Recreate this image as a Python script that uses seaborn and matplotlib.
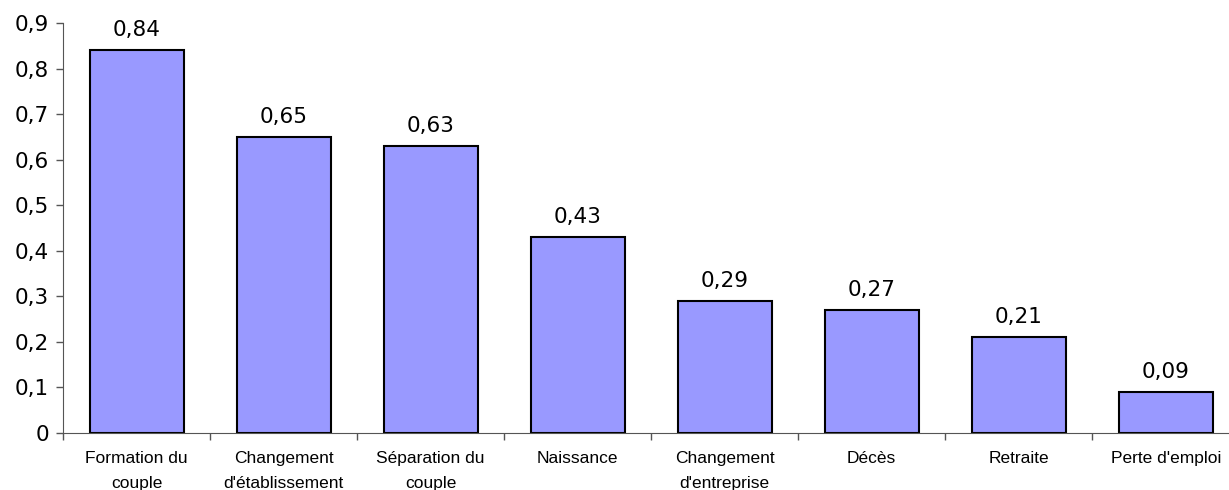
import numpy as np
import pandas as pd
import seaborn as sns
import matplotlib.pyplot as plt
from matplotlib.ticker import FixedLocator, FuncFormatter

# data
categories = ["Formation du\ncouple", "Changement\nd'établissement", "Séparation du\ncouple",
              "Naissance", "Changement\nd'entreprise", "Décès", "Retraite", "Perte d'emploi"]
values = [0.84, 0.65, 0.63, 0.43, 0.29, 0.27, 0.21, 0.09]
yticks = [0, 0.1, 0.2, 0.3, 0.4, 0.5, 0.6, 0.7, 0.8, 0.9]

df = pd.DataFrame({"cat": categories, "val": values})

sns.set_style("white")
plt.rcParams["font.family"] = ["DejaVu Sans"]

fig = plt.figure(figsize=(12.29, 4.9), dpi=100)
ax = fig.add_axes([0.0513, 0.1163, 0.957, 0.8367])

sns.barplot(data=df, x="cat", y="val", color="#9999FF", saturation=1,
            width=0.64, edgecolor="black", linewidth=1.5, ax=ax)

for i, v in enumerate(values):
    ax.text(i, v + 0.022, f"{v:.2f}".replace(".", ","), ha="center", va="bottom",
            fontsize=15.5, color="black")

ax.set_ylim(0, 0.9)
ax.set_xlim(-0.5, len(categories) - 0.5)
ax.set_yticks(yticks)
ax.yaxis.set_major_formatter(FuncFormatter(lambda v, p: "0" if v == 0 else f"{v:.1f}".replace(".", ",")))
ax.tick_params(axis="y", labelsize=15.5, labelcolor="black", length=5, width=1,
               color="#555555", direction="out", left=True, pad=5)

# category ticks sit between bars
ax.xaxis.set_minor_locator(FixedLocator(np.arange(-0.5, len(categories), 1)))
ax.tick_params(axis="x", which="major", length=0, pad=13, labelcolor="black")
ax.tick_params(axis="x", which="minor", length=5, width=1, color="#555555", direction="out", bottom=True)
for lab in ax.get_xticklabels():
    lab.set_fontfamily("Liberation Sans")
    lab.set_fontsize(12.5)
    lab.set_linespacing(1.8)

ax.set_xlabel("")
ax.set_ylabel("")
for s in ["top", "right"]:
    ax.spines[s].set_visible(False)
ax.spines["left"].set_color("#555555")
ax.spines["bottom"].set_color("#555555")

plt.savefig("out.png", dpi=100)
